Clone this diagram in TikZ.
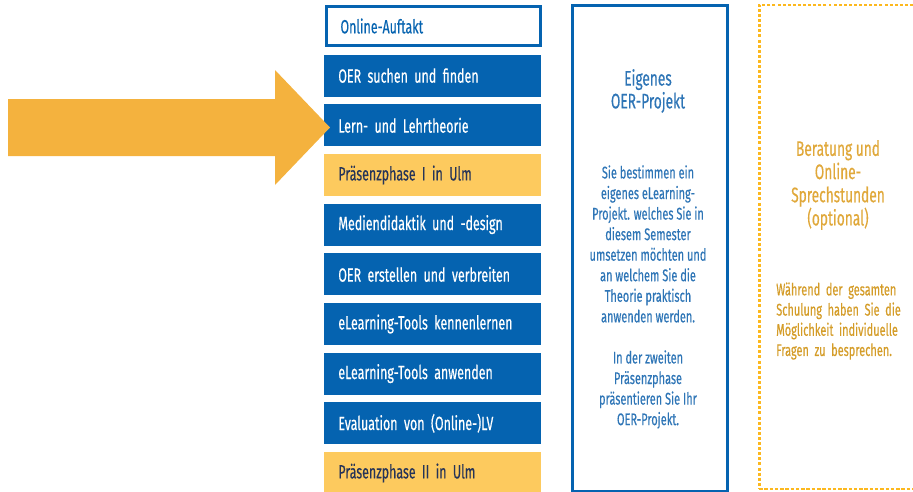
\documentclass[tikz,border=0pt]{standalone}
\usepackage{fontspec}
\setmainfont[FakeStretch=0.65,FakeBold=0.4]{Fira Sans}

\definecolor{oerblue}{RGB}{5,99,176}
\definecolor{oerlight}{RGB}{46,117,182}
\definecolor{oeryellow}{RGB}{253,202,94}
\definecolor{oernavy}{RGB}{38,52,88}
\definecolor{oerarrow}{RGB}{244,178,62}
\definecolor{oergold}{RGB}{252,184,30}
\definecolor{oergoldhead}{RGB}{224,168,58}
\definecolor{oergoldtext}{RGB}{212,156,40}

\begin{document}
\begin{tikzpicture}[x=0.02cm,y=-0.02cm,
  modul/.style={rectangle,anchor=west,minimum height=0.84cm,text width=3.78cm,
    inner xsep=0.28cm,inner ysep=0pt,align=left,font=\fontsize{10.9}{13}\selectfont},
  online/.style={modul,draw=oerblue,line width=1.7pt,fill=white,text=oerblue,
    text width=3.72cm,minimum height=0.78cm},
  blau/.style={modul,fill=oerblue,text=white},
  gelb/.style={modul,fill=oeryellow,text=oernavy}]

\useasboundingbox (0,0) rectangle (913,491);

% left column
\node[online] (auftakt) at (325,26) {Online-Auftakt};
\node[blau] (suchen) at (324,75.6) {OER suchen und finden};
\node[blau] (theorie) at (324,125.3) {Lern- und Lehrtheorie};
\node[gelb] (praesenz1) at (324,175) {Präsenzphase I in Ulm};
\node[blau] (didaktik) at (324,224.6) {Mediendidaktik und -design};
\node[blau] (erstellen) at (324,274.3) {OER erstellen und verbreiten};
\node[blau] (kennen) at (324,324) {eLearning-Tools kennenlernen};
\node[blau] (anwenden) at (324,373.6) {eLearning-Tools anwenden};
\node[blau] (evaluation) at (324,423.3) {Evaluation von (Online-)LV};
\node[gelb] (praesenz2) at (324,473) {Präsenzphase II in Ulm};

% middle column
\node[draw=oerblue,line width=1.7pt,minimum width=3.1cm,minimum height=9.72cm,
  anchor=north west,inner sep=0pt] (projekt) at (571,4) {};
\node[text=oerlight,align=center,font=\fontsize{12}{13}\selectfont]
  (projekttitel) at (648,91) {Eigenes\\OER-Projekt};
\node[text=oerlight,align=center,font=\fontsize{9.6}{11.7}\selectfont]
  (projekttext) at (648,297) {Sie bestimmen ein\\eigenes eLearning-\\Projekt. welches Sie in\\diesem Semester\\umsetzen möchten und\\an welchem Sie die\\Theorie praktisch\\anwenden werden.\\[11.7pt]In der zweiten\\Präsenzphase\\präsentieren Sie Ihr\\OER-Projekt.};

% right column (open to the right)
\draw[oergold,line width=1.7pt,dash pattern=on 1.7pt off 1.2pt]
  (913,5) -- (759,5) -- (759,489);
\draw[oergold,line width=0.8pt,dash pattern=on 2pt off 1pt] (759,489) -- (913,489);
\node[text=oergoldhead,align=center,font=\fontsize{12}{13.2}\selectfont]
  (beratung) at (838,185) {Beratung und\\Online-\\Sprechstunden\\(optional)};
\node[text=oergoldtext,align=left,text width=2.55cm,inner sep=0pt,
  font=\fontsize{9.6}{11.5}\selectfont]
  (beratungtext) at (840,321) {Während der gesamten\\Schulung haben Sie die\\Möglichkeit individuelle\\Fragen zu besprechen.};

% arrow
\fill[oerarrow] (8,99) -- (275,99) -- (275,70) -- (330,127.5) -- (275,185)
  -- (275,156) -- (8,156) -- cycle;

\end{tikzpicture}
\end{document}
